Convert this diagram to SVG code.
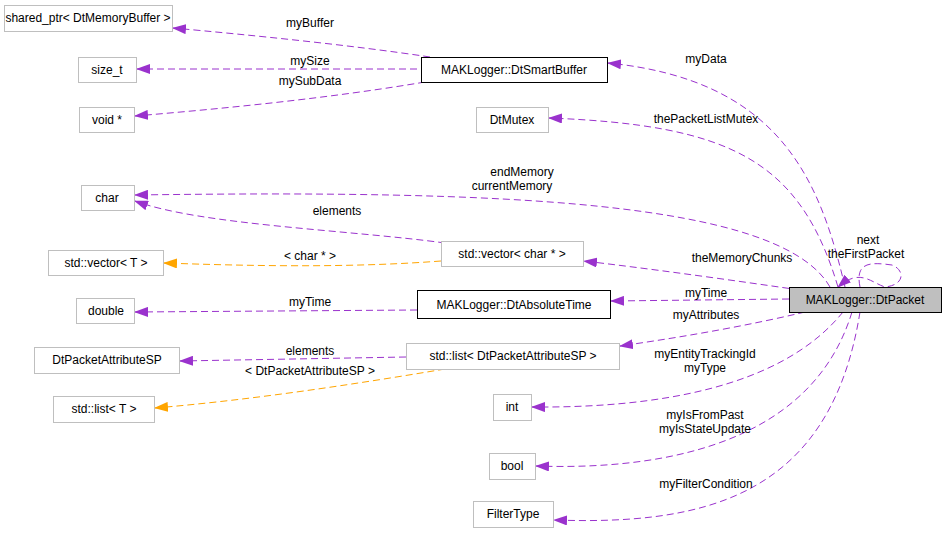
<svg xmlns="http://www.w3.org/2000/svg" width="949" height="535" viewBox="0 0 949 535">
<style>
text{font-family:"Liberation Sans",Arial,sans-serif;font-size:12px;fill:#000}
.n{fill:#fff;stroke:#bfbfbf;stroke-width:1}
.b{fill:#fff;stroke:#000;stroke-width:1}
.e{fill:none;stroke:#9a32cd;stroke-width:1;stroke-dasharray:7,4;marker-end:url(#p)}
.o{fill:none;stroke:#ffa500;stroke-width:1;stroke-dasharray:7,4;marker-end:url(#y)}
.c{text-anchor:middle}
</style>
<defs>
<marker id="p" markerWidth="14" markerHeight="10" refX="13" refY="5" orient="auto" markerUnits="userSpaceOnUse"><path d="M0,0L14,5L0,10z" fill="#9a32cd"/></marker>
<marker id="y" markerWidth="14" markerHeight="10" refX="13" refY="5" orient="auto" markerUnits="userSpaceOnUse"><path d="M0,0L14,5L0,10z" fill="#ffa500"/></marker>
</defs>
<rect width="949" height="535" fill="#fff"/>
<g id="edges">
<path class="e" d="M430,57 C350,45 250,35 173,28"/><text class="c" x="310" y="27">myBuffer</text>
<path class="e" d="M417,69 L137,69"/><text class="c" x="310" y="65">mySize</text>
<path class="e" d="M425,82 C330,98 230,108 135,116"/><text class="c" x="310" y="85">mySubData</text>
<path class="e" d="M845,287 C820,180 780,80 608,63"/><text class="c" x="706" y="63">myData</text>
<path class="e" d="M838,287 C800,160 730,125 549,118"/><text class="c" x="706" y="123">thePacketListMutex</text>
<path class="e" d="M830,287 C780,200 500,190 135,195"/><text class="c" x="522" y="176">endMemory</text><text class="c" x="512" y="190">currentMemory</text>
<path class="e" d="M445,243 C350,230 200,225 135,201"/><text class="c" x="337" y="215">elements</text>
<path class="o" d="M441,261 C350,268 250,266 164,263"/><text class="c" x="310" y="260">&lt; char * &gt;</text>
<path class="e" d="M800,290 C730,280 660,270 584,261"/><text class="c" x="742" y="262">theMemoryChunks</text>
<path class="e" d="M789,299 L611,301"/><text class="c" x="706" y="297">myTime</text>
<path class="e" d="M417,310 L135,312"/><text class="c" x="310" y="306">myTime</text>
<path class="e" d="M805,312 C750,325 690,336 620,346"/><text class="c" x="706" y="319">myAttributes</text>
<path class="e" d="M406,357 L180,361"/><text class="c" x="310" y="355">elements</text>
<path class="o" d="M445,369 C350,385 250,400 155,408"/><text class="c" x="310" y="375">&lt; DtPacketAttributeSP &gt;</text>
<path class="e" d="M843,312 C780,390 650,408 532,407"/><text class="c" x="705" y="358">myEntityTrackingId</text><text class="c" x="705" y="372">myType</text>
<path class="e" d="M852,312 C810,450 650,470 536,466"/><text class="c" x="705" y="419">myIsFromPast</text><text class="c" x="705" y="433">myIsStateUpdate</text>
<path class="e" d="M860,312 C830,500 700,525 554,520"/><text class="c" x="706" y="488">myFilterCondition</text>
<path class="e" d="M860,287 C855,262 870,262 892,265 C905,270 905,285 885,287 C870,282 860,268 838,287"/><text class="c" x="868" y="244">next</text><text class="c" x="866" y="258">theFirstPacket</text>
</g>
<g id="n1"><rect class="n" x="4.5" y="5.5" width="168" height="26"/><text class="c" x="88" y="22">shared_ptr&lt; DtMemoryBuffer &gt;</text></g>
<g id="n2"><rect class="n" x="78.5" y="57.5" width="58" height="25"/><text class="c" x="107" y="74">size_t</text></g>
<g id="n3"><rect class="n" x="79.5" y="107.5" width="55" height="25"/><text class="c" x="107" y="124">void *</text></g>
<g id="n4"><rect class="b" x="421.5" y="57.5" width="186" height="25"/><text class="c" x="514" y="74">MAKLogger::DtSmartBuffer</text></g>
<g id="n5"><rect class="n" x="476.5" y="107.5" width="72" height="25"/><text class="c" x="512" y="124">DtMutex</text></g>
<g id="n6"><rect class="n" x="81.5" y="185.5" width="53" height="25"/><text class="c" x="107" y="202">char</text></g>
<g id="n7"><rect class="n" x="48.5" y="250.5" width="115" height="25"/><text class="c" x="106" y="267">std::vector&lt; T &gt;</text></g>
<g id="n8"><rect class="n" x="441.5" y="241.5" width="142" height="25"/><text class="c" x="512" y="258">std::vector&lt; char * &gt;</text></g>
<g id="n9"><rect class="n" x="76.5" y="298.5" width="58" height="25"/><text class="c" x="106" y="315">double</text></g>
<g id="n10"><rect class="b" x="417.5" y="290.5" width="193" height="28"/><text class="c" x="514" y="309">MAKLogger::DtAbsoluteTime</text></g>
<g id="n11"><rect x="789.5" y="287.5" width="152" height="25" fill="#bfbfbf" stroke="#000"/><text class="c" x="865" y="304">MAKLogger::DtPacket</text></g>
<g id="n12"><rect class="n" x="34.5" y="347.5" width="145" height="26"/><text class="c" x="107" y="364">DtPacketAttributeSP</text></g>
<g id="n13"><rect class="n" x="406.5" y="343.5" width="213" height="26"/><text class="c" x="513" y="360">std::list&lt; DtPacketAttributeSP &gt;</text></g>
<g id="n14"><rect class="n" x="53.5" y="396.5" width="101" height="26"/><text class="c" x="104" y="413">std::list&lt; T &gt;</text></g>
<g id="n15"><rect class="n" x="493.5" y="394.5" width="38" height="26"/><text class="c" x="512" y="411">int</text></g>
<g id="n16"><rect class="n" x="489.5" y="453.5" width="46" height="26"/><text class="c" x="512" y="470">bool</text></g>
<g id="n17"><rect class="n" x="473.5" y="501.5" width="80" height="26"/><text class="c" x="513" y="518">FilterType</text></g>
</svg>
